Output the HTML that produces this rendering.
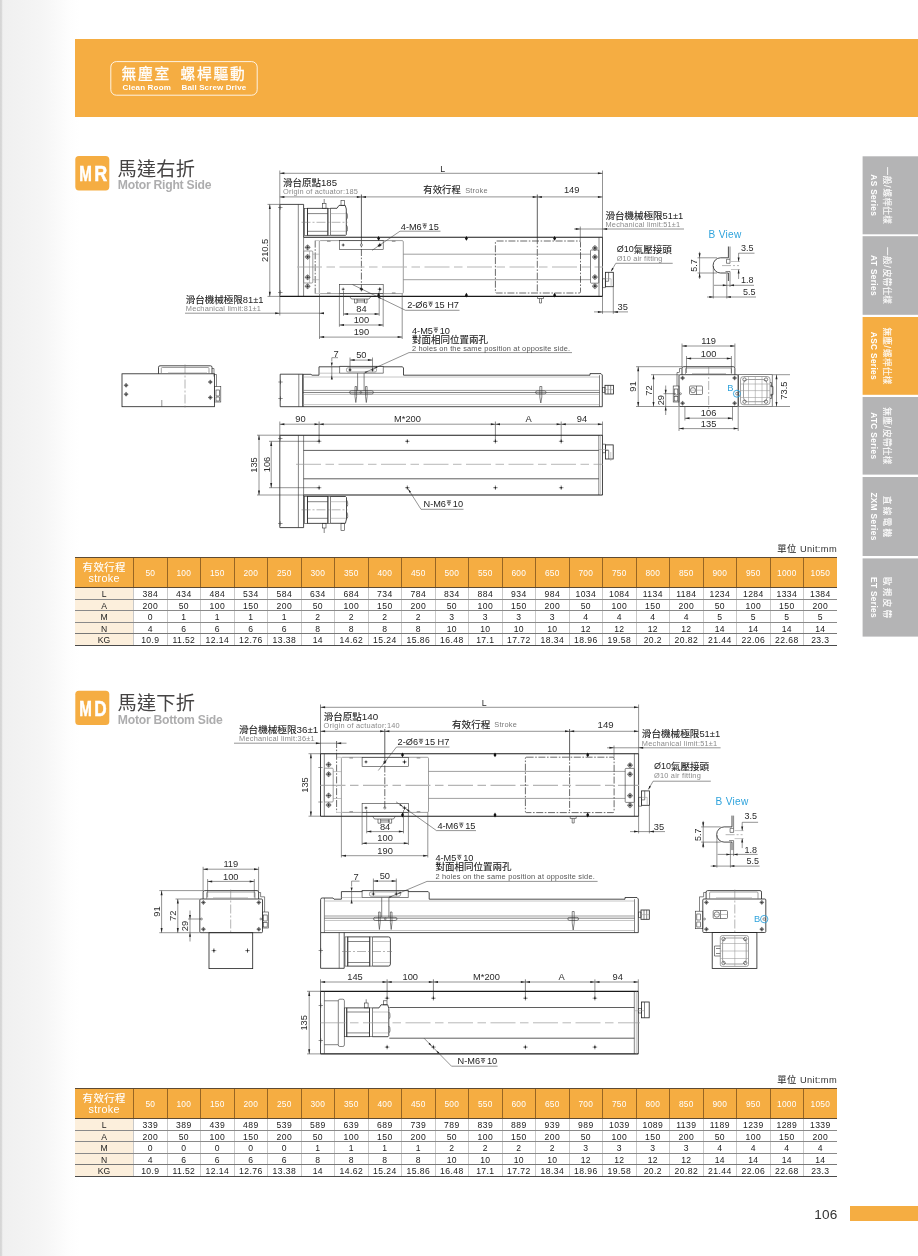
<!DOCTYPE html>
<html><head><meta charset="utf-8"><title>Clean Room Ball Screw Drive</title><style>
html,body{margin:0;padding:0}
body{width:918px;height:1256px;position:relative;overflow:hidden;background:#fff;font-family:"Liberation Sans","Noto Sans CJK TC",sans-serif}
.lg{position:absolute;left:0;top:0;width:90px;height:1256px;background:linear-gradient(90deg,#d4d4d4 0,#dadada 1.6px,#f0f0f0 2.8px,#f2f2f2 20px,#f5f5f5 40px,#f9f9f9 55px,#fdfdfd 68px,#fff 80px)}
.banner{position:absolute;left:75.3px;top:39.4px;width:843px;height:77.8px;background:#F5AD42}
.foot{position:absolute;left:849.8px;top:1206.3px;width:69px;height:14.4px;background:#F5AD42}
svg.main{position:absolute;left:0;top:0;will-change:transform}
svg text{font-family:"Liberation Sans","Noto Sans CJK TC",sans-serif}
.k{fill:none;stroke:#242424;stroke-width:.82}
.K{fill:none;stroke:#1a1a1a;stroke-width:1.15}
.k2{fill:none;stroke:#333;stroke-width:.6}
.k3{fill:none;stroke:#2a2a2a;stroke-width:.75}
.t{fill:none;stroke:#3a3a3a;stroke-width:.55}
.g{fill:none;stroke:#999;stroke-width:.55}
.g2{fill:none;stroke:#777;stroke-width:.7}
.b{fill:none;stroke:#2FA3DC;stroke-width:.9}
.cd{fill:none;stroke:#b5b5b5;stroke-width:1.2;stroke-dasharray:25 4.5 8.5 4.5}
.cd2{fill:none;stroke:#999;stroke-width:.7;stroke-dasharray:25 4.5 8.5 4.5}
.cl{fill:none;stroke:#777;stroke-width:.55;stroke-dasharray:9 2 2 2}
.dd{fill:none;stroke:#3a3a3a;stroke-width:.75;stroke-dasharray:7 1.6 1.6 1.6}
.tbl{will-change:transform;position:absolute;left:75.3px;width:761.7px;font-size:8.6px;color:#222;border-top:1.2px solid #5e4a33;border-bottom:1.3px solid #4a4a4a}
.tbl>div{display:flex}
.th{height:28.9px;background:#F5AD42;color:#fff;border-bottom:1.1px solid #5e4a33;align-items:stretch}
.th .c{display:flex;align-items:center;justify-content:center;padding-top:1.6px;box-sizing:border-box;border-left:.8px solid rgba(90,55,15,.6);width:33.5px;flex:none;letter-spacing:.3px;font-size:8.4px}
.th .c0{width:58.1px;flex:none;height:28.9px}
.th svg{display:block}
.tr{height:10.65px;border-bottom:1px solid #8a8a8a;line-height:13.3px}
.tr.r0{height:10.95px;line-height:13.6px}
.tr.r1{height:10.2px;line-height:12.8px}
.tr.r3{border-bottom:1.4px solid #777;height:10.35px}
.tr.r4{border-bottom:none;height:11.3px}
.tr .c0{width:58.1px;flex:none;background:#FCEFDC;text-align:center}
.tr .c{width:33.5px;box-sizing:border-box;flex:none;border-left:1px solid #c9c9c9;text-align:center;letter-spacing:.4px}
</style></head>
<body>
<div class="lg"></div>
<div class="banner"></div>
<div class="foot"></div>
<div class="tbl" style="top:556.8px"><div class="th"><div class="c0"><svg width="58" height="30" viewBox="0 0 58 30"><text x="7.6" y="13.05" font-size="10.4" fill="#fff" stroke="#fff" stroke-width=".12" letter-spacing=".4">有效行程</text><text x="29.2" y="24.3" font-size="10.8" fill="#fff" text-anchor="middle" letter-spacing=".35">stroke</text></svg></div><div class="c">50</div><div class="c">100</div><div class="c">150</div><div class="c">200</div><div class="c">250</div><div class="c">300</div><div class="c">350</div><div class="c">400</div><div class="c">450</div><div class="c">500</div><div class="c">550</div><div class="c">600</div><div class="c">650</div><div class="c">700</div><div class="c">750</div><div class="c">800</div><div class="c">850</div><div class="c">900</div><div class="c">950</div><div class="c">1000</div><div class="c">1050</div></div><div class="tr r0"><div class="c0">L</div><div class="c">384</div><div class="c">434</div><div class="c">484</div><div class="c">534</div><div class="c">584</div><div class="c">634</div><div class="c">684</div><div class="c">734</div><div class="c">784</div><div class="c">834</div><div class="c">884</div><div class="c">934</div><div class="c">984</div><div class="c">1034</div><div class="c">1084</div><div class="c">1134</div><div class="c">1184</div><div class="c">1234</div><div class="c">1284</div><div class="c">1334</div><div class="c">1384</div></div><div class="tr r1"><div class="c0">A</div><div class="c">200</div><div class="c">50</div><div class="c">100</div><div class="c">150</div><div class="c">200</div><div class="c">50</div><div class="c">100</div><div class="c">150</div><div class="c">200</div><div class="c">50</div><div class="c">100</div><div class="c">150</div><div class="c">200</div><div class="c">50</div><div class="c">100</div><div class="c">150</div><div class="c">200</div><div class="c">50</div><div class="c">100</div><div class="c">150</div><div class="c">200</div></div><div class="tr r2"><div class="c0">M</div><div class="c">0</div><div class="c">1</div><div class="c">1</div><div class="c">1</div><div class="c">1</div><div class="c">2</div><div class="c">2</div><div class="c">2</div><div class="c">2</div><div class="c">3</div><div class="c">3</div><div class="c">3</div><div class="c">3</div><div class="c">4</div><div class="c">4</div><div class="c">4</div><div class="c">4</div><div class="c">5</div><div class="c">5</div><div class="c">5</div><div class="c">5</div></div><div class="tr r3"><div class="c0">N</div><div class="c">4</div><div class="c">6</div><div class="c">6</div><div class="c">6</div><div class="c">6</div><div class="c">8</div><div class="c">8</div><div class="c">8</div><div class="c">8</div><div class="c">10</div><div class="c">10</div><div class="c">10</div><div class="c">10</div><div class="c">12</div><div class="c">12</div><div class="c">12</div><div class="c">12</div><div class="c">14</div><div class="c">14</div><div class="c">14</div><div class="c">14</div></div><div class="tr r4"><div class="c0">KG</div><div class="c">10.9</div><div class="c">11.52</div><div class="c">12.14</div><div class="c">12.76</div><div class="c">13.38</div><div class="c">14</div><div class="c">14.62</div><div class="c">15.24</div><div class="c">15.86</div><div class="c">16.48</div><div class="c">17.1</div><div class="c">17.72</div><div class="c">18.34</div><div class="c">18.96</div><div class="c">19.58</div><div class="c">20.2</div><div class="c">20.82</div><div class="c">21.44</div><div class="c">22.06</div><div class="c">22.68</div><div class="c">23.3</div></div></div>
<div class="tbl" style="top:1088.4px"><div class="th"><div class="c0"><svg width="58" height="30" viewBox="0 0 58 30"><text x="7.6" y="13.05" font-size="10.4" fill="#fff" stroke="#fff" stroke-width=".12" letter-spacing=".4">有效行程</text><text x="29.2" y="24.3" font-size="10.8" fill="#fff" text-anchor="middle" letter-spacing=".35">stroke</text></svg></div><div class="c">50</div><div class="c">100</div><div class="c">150</div><div class="c">200</div><div class="c">250</div><div class="c">300</div><div class="c">350</div><div class="c">400</div><div class="c">450</div><div class="c">500</div><div class="c">550</div><div class="c">600</div><div class="c">650</div><div class="c">700</div><div class="c">750</div><div class="c">800</div><div class="c">850</div><div class="c">900</div><div class="c">950</div><div class="c">1000</div><div class="c">1050</div></div><div class="tr r0"><div class="c0">L</div><div class="c">339</div><div class="c">389</div><div class="c">439</div><div class="c">489</div><div class="c">539</div><div class="c">589</div><div class="c">639</div><div class="c">689</div><div class="c">739</div><div class="c">789</div><div class="c">839</div><div class="c">889</div><div class="c">939</div><div class="c">989</div><div class="c">1039</div><div class="c">1089</div><div class="c">1139</div><div class="c">1189</div><div class="c">1239</div><div class="c">1289</div><div class="c">1339</div></div><div class="tr r1"><div class="c0">A</div><div class="c">200</div><div class="c">50</div><div class="c">100</div><div class="c">150</div><div class="c">200</div><div class="c">50</div><div class="c">100</div><div class="c">150</div><div class="c">200</div><div class="c">50</div><div class="c">100</div><div class="c">150</div><div class="c">200</div><div class="c">50</div><div class="c">100</div><div class="c">150</div><div class="c">200</div><div class="c">50</div><div class="c">100</div><div class="c">150</div><div class="c">200</div></div><div class="tr r2"><div class="c0">M</div><div class="c">0</div><div class="c">0</div><div class="c">0</div><div class="c">0</div><div class="c">0</div><div class="c">1</div><div class="c">1</div><div class="c">1</div><div class="c">1</div><div class="c">2</div><div class="c">2</div><div class="c">2</div><div class="c">2</div><div class="c">3</div><div class="c">3</div><div class="c">3</div><div class="c">3</div><div class="c">4</div><div class="c">4</div><div class="c">4</div><div class="c">4</div></div><div class="tr r3"><div class="c0">N</div><div class="c">4</div><div class="c">6</div><div class="c">6</div><div class="c">6</div><div class="c">6</div><div class="c">8</div><div class="c">8</div><div class="c">8</div><div class="c">8</div><div class="c">10</div><div class="c">10</div><div class="c">10</div><div class="c">10</div><div class="c">12</div><div class="c">12</div><div class="c">12</div><div class="c">12</div><div class="c">14</div><div class="c">14</div><div class="c">14</div><div class="c">14</div></div><div class="tr r4"><div class="c0">KG</div><div class="c">10.9</div><div class="c">11.52</div><div class="c">12.14</div><div class="c">12.76</div><div class="c">13.38</div><div class="c">14</div><div class="c">14.62</div><div class="c">15.24</div><div class="c">15.86</div><div class="c">16.48</div><div class="c">17.1</div><div class="c">17.72</div><div class="c">18.34</div><div class="c">18.96</div><div class="c">19.58</div><div class="c">20.2</div><div class="c">20.82</div><div class="c">21.44</div><div class="c">22.06</div><div class="c">22.68</div><div class="c">23.3</div></div></div>
<svg class="main" width="918" height="1256" viewBox="0 0 918 1256">
<rect x="110.8" y="61.6" width="146.4" height="33.6" rx="5.5" fill="none" stroke="#fff" stroke-opacity=".85" stroke-width="1"/>
<text x="121.6" y="78.9" font-size="14.7" fill="#fff" stroke="#fff" stroke-width=".3" letter-spacing="1.75">無塵室</text>
<text x="180.6" y="78.9" font-size="14.7" fill="#fff" stroke="#fff" stroke-width=".3" letter-spacing="1.75">螺桿驅動</text>
<text x="122.6" y="90.3" font-size="8" fill="#fff" font-weight="bold" letter-spacing="0.17">Clean Room</text>
<text x="181.6" y="90.3" font-size="8" fill="#fff" font-weight="bold" letter-spacing="0.13">Ball Screw Drive</text>
<rect x="862.6" y="156.3" width="56" height="78" fill="#B4B4B5"/>
<g transform="translate(881 195.3) rotate(90)"><text y="-3.2" font-size="8.6" fill="#fff" stroke="#fff" stroke-width=".1"><tspan x="-28.48" letter-spacing=".3">一般</tspan><tspan x="-10.3">/</tspan><tspan x="-6.82" letter-spacing=".3">螺桿仕樣</tspan></text><text x="0" y="10" font-size="8.3" font-weight="bold" fill="#fff" text-anchor="middle" letter-spacing=".35">AS Series</text></g>
<rect x="862.6" y="236.2" width="56" height="78.6" fill="#B4B4B5"/>
<g transform="translate(881 275.5) rotate(90)"><text y="-3.2" font-size="8.6" fill="#fff" stroke="#fff" stroke-width=".1"><tspan x="-28.48" letter-spacing=".3">一般</tspan><tspan x="-10.3">/</tspan><tspan x="-6.82" letter-spacing=".3">皮帶仕樣</tspan></text><text x="0" y="10" font-size="8.3" font-weight="bold" fill="#fff" text-anchor="middle" letter-spacing=".35">AT Series</text></g>
<rect x="862.6" y="317" width="56" height="77.8" fill="#F5AD42"/>
<g transform="translate(881 355.9) rotate(90)"><text y="-3.2" font-size="8.6" fill="#fff" stroke="#fff" stroke-width=".1"><tspan x="-28.48" letter-spacing=".3">無塵</tspan><tspan x="-10.3">/</tspan><tspan x="-6.82" letter-spacing=".3">螺桿仕樣</tspan></text><text x="0" y="10" font-size="8.3" font-weight="bold" fill="#fff" text-anchor="middle" letter-spacing=".35">ASC Series</text></g>
<rect x="862.6" y="397" width="56" height="77.6" fill="#B4B4B5"/>
<g transform="translate(881 435.8) rotate(90)"><text y="-3.2" font-size="8.6" fill="#fff" stroke="#fff" stroke-width=".1"><tspan x="-28.48" letter-spacing=".3">無塵</tspan><tspan x="-10.3">/</tspan><tspan x="-6.82" letter-spacing=".3">皮帶仕樣</tspan></text><text x="0" y="10" font-size="8.3" font-weight="bold" fill="#fff" text-anchor="middle" letter-spacing=".35">ATC Series</text></g>
<rect x="862.6" y="477" width="56" height="79" fill="#B4B4B5"/>
<g transform="translate(881 516.5) rotate(90)"><text x="-20.5" y="-3.2" font-size="8.6" fill="#fff" stroke="#fff" stroke-width=".1" letter-spacing="2.2">直線電機</text><text x="0" y="10" font-size="8.3" font-weight="bold" fill="#fff" text-anchor="middle" letter-spacing=".35">ZXM Series</text></g>
<rect x="862.6" y="558.4" width="56" height="78.2" fill="#B4B4B5"/>
<g transform="translate(881 597.5) rotate(90)"><text x="-20.5" y="-3.2" font-size="8.6" fill="#fff" stroke="#fff" stroke-width=".1" letter-spacing="2.2">歐規皮帶</text><text x="0" y="10" font-size="8.3" font-weight="bold" fill="#fff" text-anchor="middle" letter-spacing=".35">ET Series</text></g>
<rect x="75.3" y="156" width="34" height="34.4" rx="3.6" fill="#F5AD42"/>
<text transform="translate(79.3 181.2) scale(0.682 1)" font-size="22.2" font-weight="bold" fill="#fff" stroke="#fff" stroke-width=".5">M</text>
<text transform="translate(94.3 181.2) scale(0.809 1)" font-size="22.2" font-weight="bold" fill="#fff" stroke="#fff" stroke-width=".5">R</text>
<text x="117.6" y="175.5" font-size="19.2" fill="#454343" letter-spacing=".2">馬達右折</text>
<text x="117.8" y="189.2" font-size="12.2" fill="#adadae" font-weight="bold" letter-spacing="-0.25">Motor Right Side</text>
<rect x="75.3" y="690.7" width="34" height="34.4" rx="3.6" fill="#F5AD42"/>
<text transform="translate(79.3 715.9) scale(0.682 1)" font-size="22.2" font-weight="bold" fill="#fff" stroke="#fff" stroke-width=".5">M</text>
<text transform="translate(94.3 715.9) scale(0.775 1)" font-size="22.2" font-weight="bold" fill="#fff" stroke="#fff" stroke-width=".5">D</text>
<text x="117.6" y="710.2" font-size="19.2" fill="#454343" letter-spacing=".2">馬達下折</text>
<text x="117.8" y="723.9" font-size="12.2" fill="#adadae" font-weight="bold" letter-spacing="-0.25">Motor Bottom Side</text>
<path class="t" d="M279.8 173.3L602.5 173.3"/>
<path fill="#222" d="M279.8 173.3L284.4 172.3L284.4 174.3Z"/>
<path fill="#222" d="M602.5 173.3L597.9 172.3L597.9 174.3Z"/>
<text x="442.6" y="171.6" font-size="8.8" fill="#2b2b2b" text-anchor="middle">L</text>
<path class="t" d="M279.8 196.9L361.4 196.9"/>
<path fill="#222" d="M279.8 196.9L284.4 195.9L284.4 197.9Z"/>
<path fill="#222" d="M361.4 196.9L356.8 195.9L356.8 197.9Z"/>
<path class="t" d="M361.4 196.9L537.3 196.9"/>
<path fill="#222" d="M361.4 196.9L366 195.9L366 197.9Z"/>
<path fill="#222" d="M537.3 196.9L532.7 195.9L532.7 197.9Z"/>
<path class="t" d="M537.3 196.9L602.5 196.9"/>
<path fill="#222" d="M537.3 196.9L541.9 195.9L541.9 197.9Z"/>
<path fill="#222" d="M602.5 196.9L597.9 195.9L597.9 197.9Z"/>
<path class="t" d="M279.8 170.5L279.8 204.2"/>
<path class="t" d="M602.5 170.5L602.5 237.2"/>
<path class="k3" d="M361.4 194.5L361.4 237.2"/>
<path class="dd" d="M361.4 237.2L361.4 293"/>
<path class="k3" d="M537.3 194.5L537.3 237.2"/>
<path class="dd" d="M537.3 237.2L537.3 293"/>
<text x="283" y="185.8" font-size="9.5" fill="#222" stroke="#222" stroke-width=".12">滑台原點</text><text x="321" y="185.6" font-size="9.6" fill="#222">185</text>
<text x="283" y="194.2" font-size="7.4" fill="#8a8a8a" letter-spacing="0.18">Origin of actuator:185</text>
<text x="423.3" y="193.4" font-size="9.4" fill="#222" stroke="#222" stroke-width=".12">有效行程</text>
<text x="465.2" y="193" font-size="7.4" fill="#777" letter-spacing="0.19">Stroke</text>
<text x="571.7" y="193.2" font-size="9.3" fill="#2b2b2b" text-anchor="middle">149</text>
<path class="k" d="M279.8 296.4V204.4H303.6V237.2"/>
<path class="k2" d="M298.3 204.4L298.3 296.4"/>
<path class="k2" d="M303.6 237.2L303.6 296.4"/>
<path class="t" d="M278.1 207.5L282.5 207.5"/>
<path class="t" d="M280.3 205.3L280.3 209.7"/>
<path class="t" d="M278.1 292.5L282.5 292.5"/>
<path class="t" d="M280.3 290.3L280.3 294.7"/>
<rect class="k2" x="304.4" y="208.3" width="3" height="27"/>
<rect class="k" x="307.4" y="208.3" width="20.5" height="27"/>
<rect class="k2" x="327.9" y="208.3" width="2.5" height="27"/>
<path class="k" d="M330.4 208.3H337L339 205.4H345.2L346.3 209V234.5L345.6 235.3H330.4"/>
<path class="k2" d="M307.4 213.6L327.9 213.6"/>
<path class="k2" d="M307.4 231.3L327.9 231.3"/>
<path class="g" d="M330.4 213.6L346 213.6"/>
<path class="g" d="M330.4 231.3L346 231.3"/>
<rect class="k2" x="322.5" y="203.4" width="3.5" height="4.9"/>
<path class="k2" d="M324.2 199L324.2 203.4"/>
<rect class="k2" x="341" y="200.6" width="3.6" height="4.8"/>
<path class="k2" d="M346.3 212.5q1.5 1 1.2 4.5q0 2 -1.2 2.5M346.3 225q1.5 1 1.2 4.5q0 2 -1.2 2.5"/>
<path class="cl" d="M301.5 222.3L347.5 222.3"/>
<path class="K" d="M303.6 237.2L602.5 237.2"/>
<path class="K" d="M279.8 296.4L602.5 296.4"/>
<path class="k" d="M602.5 237.2L602.5 296.4"/>
<path class="k2" d="M599 237.2L599 296.4"/>
<rect class="g2" x="319.3" y="240.6" width="84" height="53" rx="1.2"/>
<path class="dd" d="M315.2 240.6L315.2 293.6"/>
<path class="g" d="M315.2 240.6L319.3 240.6"/>
<path class="g" d="M315.2 293.6L319.3 293.6"/>
<rect class="k2" x="339.4" y="240.6" width="43.8" height="9"/>
<rect class="k2" x="339.4" y="284.6" width="43.8" height="9"/>
<path class="t" d="M341.5 245L344.9 245"/>
<path class="t" d="M343.2 243.3L343.2 246.7"/>
<circle cx="343.2" cy="245" r=".8" fill="#333"/>
<circle class="t" cx="361.4" cy="245" r="1.1"/>
<path class="t" d="M377.6 245L382 245"/>
<path class="t" d="M379.8 242.8L379.8 247.2"/>
<path fill="#222" d="M378.6 245L379.8 243.5L381 245L379.8 246.5Z"/>
<path class="t" d="M341.5 289.2L344.9 289.2"/>
<path class="t" d="M343.2 287.5L343.2 290.9"/>
<circle cx="343.2" cy="289.2" r=".8" fill="#333"/>
<circle class="t" cx="361.4" cy="289.2" r="1.1"/>
<path class="t" d="M377.6 289.2L382 289.2"/>
<path class="t" d="M379.8 287L379.8 291.4"/>
<path fill="#222" d="M378.6 289.2L379.8 287.7L381 289.2L379.8 290.7Z"/>
<path class="t" d="M327 241.3L330.6 241.3"/>
<path class="t" d="M327 292.9L330.6 292.9"/>
<path class="t" d="M391.9 241.3L395.5 241.3"/>
<path class="t" d="M391.9 292.9L395.5 292.9"/>
<path class="g2" d="M403.3 254.2L590.5 254.2"/>
<path class="g2" d="M403.3 279.7L590.5 279.7"/>
<path class="g" d="M312.8 254.2L319.3 254.2"/>
<path class="g" d="M312.8 279.7L319.3 279.7"/>
<path class="cd" d="M297 267L603 267"/>
<path fill="#111" d="M377.1 238.4L378.6 236L380.1 238.4L378.6 240.8Z"/>
<path fill="#111" d="M377.1 295.2L378.6 292.8L380.1 295.2L378.6 297.6Z"/>
<path fill="#111" d="M464.9 238.4L466.4 236L467.9 238.4L466.4 240.8Z"/>
<path fill="#111" d="M464.9 295.2L466.4 292.8L467.9 295.2L466.4 297.6Z"/>
<path fill="#111" d="M553.1 238.4L554.6 236L556.1 238.4L554.6 240.8Z"/>
<path fill="#111" d="M553.1 295.2L554.6 292.8L556.1 295.2L554.6 297.6Z"/>
<rect class="g2" x="303.6" y="251" width="9.2" height="32" rx="1"/>
<path class="g" d="M309.5 251L309.5 283"/>
<circle class="k2" cx="307.6" cy="247.4" r="2"/>
<path class="t" d="M304.7 247.4L310.5 247.4"/>
<path class="t" d="M307.6 244.5L307.6 250.3"/>
<circle cx="307.6" cy="247.4" r="1.1" fill="#333"/>
<circle class="k2" cx="307.6" cy="256.9" r="2"/>
<path class="t" d="M304.7 256.9L310.5 256.9"/>
<path class="t" d="M307.6 254L307.6 259.8"/>
<circle cx="307.6" cy="256.9" r="1.1" fill="#333"/>
<circle class="k2" cx="307.6" cy="277.3" r="2"/>
<path class="t" d="M304.7 277.3L310.5 277.3"/>
<path class="t" d="M307.6 274.4L307.6 280.2"/>
<circle cx="307.6" cy="277.3" r="1.1" fill="#333"/>
<circle class="k2" cx="307.6" cy="286.3" r="2"/>
<path class="t" d="M304.7 286.3L310.5 286.3"/>
<path class="t" d="M307.6 283.4L307.6 289.2"/>
<circle cx="307.6" cy="286.3" r="1.1" fill="#333"/>
<rect class="dd" x="495.4" y="241" width="85.1" height="52" rx="1.2"/>
<rect class="k2" x="590.5" y="250" width="8.3" height="33.2" rx="0.8"/>
<circle class="k2" cx="594.9" cy="248" r="2"/>
<path class="t" d="M592 248L597.8 248"/>
<path class="t" d="M594.9 245.1L594.9 250.9"/>
<circle cx="594.9" cy="248" r="1.1" fill="#333"/>
<circle class="k2" cx="594.9" cy="257" r="2"/>
<path class="t" d="M592 257L597.8 257"/>
<path class="t" d="M594.9 254.1L594.9 259.9"/>
<circle cx="594.9" cy="257" r="1.1" fill="#333"/>
<circle class="k2" cx="594.9" cy="277.1" r="2"/>
<path class="t" d="M592 277.1L597.8 277.1"/>
<path class="t" d="M594.9 274.2L594.9 280"/>
<circle cx="594.9" cy="277.1" r="1.1" fill="#333"/>
<circle class="k2" cx="594.9" cy="286.2" r="2"/>
<path class="t" d="M592 286.2L597.8 286.2"/>
<path class="t" d="M594.9 283.3L594.9 289.1"/>
<circle cx="594.9" cy="286.2" r="1.1" fill="#333"/>
<rect class="k" x="605.4" y="272.3" width="7.9" height="14.4"/>
<path class="k2" d="M602.5 278.78V287.6H605.4V278.78H602.5"/>
<path class="k2" d="M608.6 272.3V281.28H605.4"/>
<path class="g" d="M605.4 278.78H611.1V286.7"/>
<path class="k2" d="M349.5 296.4L351.5 299H369L371 296.4M354.5 299V303H357V299M364.5 299V303H367V299M357 300.2H364.5V302H357"/>
<path class="k2" d="M537.5 296.4V298.5H543.5V296.4M539.5 298.5V303H541.5V298.5"/>
<text x="400.8" y="229.6" font-size="9.2" fill="#222">4-M6</text>
<path fill="none" stroke="#222" stroke-width=".65" d="M422.56 223.9h4.3M423.16 225.5L426.26 225.5L424.71 228.5ZM424.71 223.9V225.5"/>
<text x="428.56" y="229.6" font-size="9.2" fill="#222">15</text>
<path class="t" d="M440.5 231.2H400L372 250.4"/>
<path fill="#222" d="M381.3 244L378.84 246.78L377.82 245.3Z"/>
<path fill="#222" d="M377.5 246.7L379.96 243.92L380.98 245.4Z"/>
<text x="407.2" y="307.8" font-size="9.2" fill="#222">2-Ø6</text>
<path fill="none" stroke="#222" stroke-width=".65" d="M428.45 302.1h4.3M429.05 303.7L432.15 303.7L430.6 306.7ZM430.6 302.1V303.7"/>
<text x="434.45" y="307.8" font-size="9.2" fill="#222">15 H7</text>
<path class="t" d="M459.5 310.3H405.5L352.5 284.6"/>
<path fill="#222" d="M363.4 289.9L359.77 289.14L360.55 287.52Z"/>
<path fill="#222" d="M359.4 288L363.03 288.76L362.25 290.38Z"/>
<path fill="#222" d="M381.6 298.7L377.97 297.94L378.75 296.32Z"/>
<path class="t" d="M343.5 291L343.5 315.8"/>
<path class="t" d="M379.2 291L379.2 315.8"/>
<path class="t" d="M343.5 314L379.2 314"/>
<path fill="#222" d="M343.5 314L348.1 313L348.1 315Z"/>
<path fill="#222" d="M379.2 314L374.6 313L374.6 315Z"/>
<text x="361.4" y="312" font-size="9.3" fill="#2b2b2b" text-anchor="middle">84</text>
<path class="t" d="M339.4 294L339.4 326.8"/>
<path class="t" d="M383.2 294L383.2 326.8"/>
<path class="t" d="M339.4 325L383.2 325"/>
<path fill="#222" d="M339.4 325L344 324L344 326Z"/>
<path fill="#222" d="M383.2 325L378.6 324L378.6 326Z"/>
<text x="361.4" y="323.2" font-size="9.3" fill="#2b2b2b" text-anchor="middle">100</text>
<path class="t" d="M319.5 294L319.5 339"/>
<path class="t" d="M402.2 294L402.2 339"/>
<path class="t" d="M319.5 337.1L402.2 337.1"/>
<path fill="#222" d="M319.5 337.1L324.1 336.1L324.1 338.1Z"/>
<path fill="#222" d="M402.2 337.1L397.6 336.1L397.6 338.1Z"/>
<text x="361.4" y="335.3" font-size="9.3" fill="#2b2b2b" text-anchor="middle">190</text>
<text x="185.8" y="302.8" font-size="9.5" fill="#222" stroke="#222" stroke-width=".12">滑台機械極限</text><text x="242.8" y="302.6" font-size="9.4" fill="#222">81±1</text>
<text x="185.8" y="311" font-size="7.4" fill="#8a8a8a" letter-spacing="0.2">Mechanical limit:81±1</text>
<path class="t" d="M185 313.2L324 313.2"/>
<path fill="#222" d="M279.8 313.2L275.2 312.2L275.2 314.2Z"/>
<path fill="#222" d="M319.4 313.2L324 312.2L324 314.2Z"/>
<path class="t" d="M279.8 296.4L279.8 315.5"/>
<path class="t" d="M267.5 204.4L279.8 204.4"/>
<path class="t" d="M267.5 296.4L279.8 296.4"/>
<path class="t" d="M269.8 204.4L269.8 296.4"/>
<path fill="#222" d="M269.8 204.4L268.8 209L270.8 209Z"/>
<path fill="#222" d="M269.8 296.4L268.8 291.8L270.8 291.8Z"/>
<text x="268.2" y="250.4" font-size="9.3" fill="#2b2b2b" text-anchor="middle" transform="rotate(-90 268.2 250.4)">210.5</text>
<text x="605.5" y="219.2" font-size="9.5" fill="#222" stroke="#222" stroke-width=".12">滑台機械極限</text><text x="662.5" y="219" font-size="9.4" fill="#222">51±1</text>
<text x="605.5" y="227.4" font-size="7.4" fill="#8a8a8a" letter-spacing="0.18">Mechanical limit:51±1</text>
<path class="t" d="M574 229L684 229"/>
<path fill="#222" d="M580.3 229L575.7 228L575.7 230Z"/>
<path fill="#222" d="M602.5 229L607.1 228L607.1 230Z"/>
<path class="t" d="M580.3 226.5L580.3 241"/>
<text x="616.7" y="252.4" font-size="9" fill="#222">Ø10</text><text x="633.71" y="252.6" font-size="9.5" fill="#222" stroke="#222" stroke-width=".12">氣壓接頭</text>
<text x="616.7" y="260.8" font-size="7.4" fill="#8a8a8a" letter-spacing="0.13">Ø10 air fitting</text>
<path class="t" d="M672.7 263.3H615.8L611.2 271.2"/>
<path fill="#222" d="M611 271.5L612.12 267.76L613.68 268.66Z"/>
<path class="t" d="M602.5 296.4L602.5 313.8"/>
<path class="t" d="M613.3 286.7L613.3 313.8"/>
<path class="t" d="M594 311.9L628 311.9"/>
<path fill="#222" d="M602.5 311.9L597.9 310.9L597.9 312.9Z"/>
<path fill="#222" d="M613.3 311.9L617.9 310.9L617.9 312.9Z"/>
<text x="617.6" y="310.2" font-size="9.3" fill="#2b2b2b">35</text>
<text x="412" y="333.6" font-size="9.2" fill="#222">4-M5</text>
<path fill="none" stroke="#222" stroke-width=".65" d="M433.76 327.9h4.3M434.36 329.5L437.46 329.5L435.91 332.5ZM435.91 327.9V329.5"/>
<text x="439.76" y="333.6" font-size="9.2" fill="#222">10</text>
<text x="412" y="342.8" font-size="9.5" fill="#222" stroke="#222" stroke-width=".12">對面相同位置兩孔</text>
<text x="412" y="350.6" font-size="7.4" fill="#555" letter-spacing="0.18">2 holes on the same position at opposite side.</text>
<path class="t" d="M572 352.6H409L364.5 372.7"/>
<path fill="#222" d="M373.6 368.6L376.69 366.22L377.43 367.86Z"/>
<path fill="#222" d="M368.6 370.9L365.51 373.28L364.77 371.64Z"/>
<text x="708.6" y="238.1" font-size="10.1" fill="#2FA3DC" letter-spacing="0.3">B View</text>
<path class="k" d="M728.4 246.5V257.8H720.5A7.4 7.6 0 0 0 720.5 273H728.4V281"/>
<path class="k2" d="M730 246.5V259.3H726.5V263.3H730V259.3"/>
<path class="k2" d="M730 281H730V271.5H725.5"/>
<path class="cl" d="M722 265.6L739 265.6"/>
<path class="g" d="M731 261.5L740 261.5"/>
<path class="g" d="M731 269.5L740 269.5"/>
<path class="t" d="M697.5 257.8L717 257.8"/>
<path class="t" d="M697.5 273L717 273"/>
<path class="t" d="M699.6 251.8L699.6 279"/>
<path fill="#222" d="M699.6 257.8L698.6 253.2L700.6 253.2Z"/>
<path fill="#222" d="M699.6 273L698.6 277.6L700.6 277.6Z"/>
<text x="697.3" y="265.6" font-size="9" fill="#2b2b2b" text-anchor="middle" transform="rotate(-90 697.3 265.6)">5.7</text>
<text x="741" y="251" font-size="9" fill="#2b2b2b">3.5</text>
<path class="t" d="M738.6 253.2L754.5 253.2"/>
<path class="t" d="M738.6 253.2L738.6 261.5"/>
<path fill="#222" d="M738.6 261.5L737.6 257.5L739.6 257.5Z"/>
<path class="t" d="M738.6 269.5L738.6 279"/>
<path fill="#222" d="M738.6 269.5L737.6 273.5L739.6 273.5Z"/>
<text x="741" y="283.4" font-size="9" fill="#2b2b2b">1.8</text>
<path class="t" d="M714 285.3L754 285.3"/>
<path fill="#222" d="M726.8 285.3L722.8 284.3L722.8 286.3Z"/>
<path fill="#222" d="M730 285.3L734 284.3L734 286.3Z"/>
<path class="t" d="M726.8 274L726.8 298.5"/>
<path class="t" d="M730 281L730 287"/>
<text x="743" y="295" font-size="9" fill="#2b2b2b">5.5</text>
<path class="t" d="M707 297L756 297"/>
<path fill="#222" d="M713.3 297L709.3 296L709.3 298Z"/>
<path fill="#222" d="M726.8 297L730.8 296L730.8 298Z"/>
<path class="t" d="M713.3 266L713.3 298.5"/>
<path class="k" d="M280.2 374.2H302.9V406.7H280.2Z"/>
<path class="k2" d="M298.8 374.2L298.8 406.7"/>
<path class="t" d="M278.3 382L282.7 382"/>
<path class="t" d="M280.5 379.8L280.5 384.2"/>
<path class="t" d="M278.3 398.5L282.7 398.5"/>
<path class="t" d="M280.5 396.3L280.5 400.7"/>
<path class="k" d="M302.9 406.7V374.3H311L312 375.2H319V366.8H339.6V366.4H383.3V366.8H402.5L403.5 368V375.2H590V373.6H601L602.3 375V406.7H302.9"/>
<path class="g" d="M319 373.2L339.6 373.2"/>
<path class="k2" d="M339.6 366.4L339.6 373.2"/>
<path class="k2" d="M383.3 366.4L383.3 373.2"/>
<path class="k2" d="M339.6 373.2L383.3 373.2"/>
<path class="g" d="M302.9 377L599.5 377"/>
<path class="k2" d="M599.5 375.2L599.5 406.7"/>
<path class="g2" d="M302.9 390.4L599.5 390.4"/>
<path class="k2" d="M302.9 392.5L599.5 392.5"/>
<path class="g" d="M302.9 394.4L599.5 394.4"/>
<path class="g" d="M302.9 404.6L599.5 404.6"/>
<rect class="g2" x="346.5" y="367.8" width="30" height="4.2" rx="1.5"/>
<path class="t" d="M348.2 369.9L351.8 369.9"/>
<path class="t" d="M350 368.1L350 371.7"/>
<path fill="#222" d="M349 369.9L350 368.6L351 369.9L350 371.2Z"/>
<path class="t" d="M370.7 369.9L374.3 369.9"/>
<path class="t" d="M372.5 368.1L372.5 371.7"/>
<path fill="#222" d="M371.5 369.9L372.5 368.6L373.5 369.9L372.5 371.2Z"/>
<path class="k2" d="M357.6 373.2V390.5M364.1 373.2V390.5"/>
<path class="k2" d="M355 386.5V396.5L355.8 402.5L356.6 396.5V386.5ZM365.5 386.5V396.5L366.3 402.5L367.1 396.5V386.5Z"/>
<path class="k2" d="M349.5 392.4q0 -1.6 2 -1.6h20q2 0 2 1.6q0 1.6 -2 1.6h-20q-2 0 -2 -1.6z"/>
<circle class="t" cx="360.8" cy="392.4" r="0.9"/>
<path class="k2" d="M539.8 386.5V397L540.8 403L541.8 397V386.5ZM535.5 392.4q0 -1.5 1.8 -1.5h7q1.8 0 1.8 1.5q0 1.5 -1.8 1.5h-7q-1.8 0 -1.8 -1.5z"/>
<rect class="k2" x="602.3" y="387.5" width="2.7" height="5"/>
<rect class="k" x="605" y="385.3" width="8.4" height="8.7"/>
<path class="k2" d="M608 385.3L608 394"/>
<path class="k2" d="M610.7 385.3L610.7 394"/>
<path class="g" d="M605 389.6L613.4 389.6"/>
<path class="t" d="M331.8 357.7L331.8 361.5"/>
<path fill="#222" d="M331.8 366.8L330.8 362.6L332.8 362.6Z"/>
<path class="t" d="M331.8 366.8L331.8 375.2"/>
<path fill="#222" d="M331.8 375.2L330.8 379.4L332.8 379.4Z"/>
<path class="t" d="M331.8 375.2L331.8 379"/>
<path class="t" d="M331.8 357.7L338 357.7"/>
<text x="333.6" y="356.5" font-size="9.3" fill="#2b2b2b">7</text>
<path class="t" d="M350 357.5L350 371"/>
<path class="t" d="M372.5 357.5L372.5 371"/>
<path class="t" d="M350 360.1L372.5 360.1"/>
<path fill="#222" d="M350 360.1L354.6 359.1L354.6 361.1Z"/>
<path fill="#222" d="M372.5 360.1L367.9 359.1L367.9 361.1Z"/>
<text x="361.3" y="358.3" font-size="9.3" fill="#2b2b2b" text-anchor="middle">50</text>
<path class="t" d="M279.8 424.2L319.1 424.2"/>
<path fill="#222" d="M279.8 424.2L284.4 423.2L284.4 425.2Z"/>
<path fill="#222" d="M319.1 424.2L314.5 423.2L314.5 425.2Z"/>
<path class="t" d="M319.1 424.2L495.4 424.2"/>
<path fill="#222" d="M319.1 424.2L323.7 423.2L323.7 425.2Z"/>
<path fill="#222" d="M495.4 424.2L490.8 423.2L490.8 425.2Z"/>
<path class="t" d="M495.4 424.2L561.2 424.2"/>
<path fill="#222" d="M495.4 424.2L500 423.2L500 425.2Z"/>
<path fill="#222" d="M561.2 424.2L556.6 423.2L556.6 425.2Z"/>
<path class="t" d="M561.2 424.2L602.5 424.2"/>
<path fill="#222" d="M561.2 424.2L565.8 423.2L565.8 425.2Z"/>
<path fill="#222" d="M602.5 424.2L597.9 423.2L597.9 425.2Z"/>
<text x="300.4" y="422.2" font-size="9.3" fill="#2b2b2b" text-anchor="middle">90</text>
<text x="407.5" y="422.2" font-size="9.3" fill="#2b2b2b" text-anchor="middle">M*200</text>
<text x="528.6" y="422.2" font-size="9.3" fill="#2b2b2b" text-anchor="middle">A</text>
<text x="582" y="422.2" font-size="9.3" fill="#2b2b2b" text-anchor="middle">94</text>
<path class="t" d="M279.8 421.5L279.8 435.2"/>
<path class="k2" d="M319.1 421.5L319.1 441.3"/>
<path class="k2" d="M495.4 421.5L495.4 441.3"/>
<path class="t" d="M561.2 421.5L561.2 441.3"/>
<path class="t" d="M602.5 421.5L602.5 435.2"/>
<path class="K" d="M279.8 435.2L602.5 435.2"/>
<path class="K" d="M303.6 495L602.5 495"/>
<path class="k" d="M602.5 435.2L602.5 495"/>
<path class="k2" d="M598.8 435.2L598.8 495"/>
<path class="g" d="M600.6 435.2L600.6 495"/>
<path class="k" d="M279.8 435.2V527.6H303.6V495"/>
<path class="k2" d="M298.4 435.2L298.4 527.6"/>
<path class="k2" d="M303.6 435.2L303.6 495"/>
<path class="t" d="M278.1 438.5L282.5 438.5"/>
<path class="t" d="M280.3 436.3L280.3 440.7"/>
<path class="t" d="M278.1 523.5L282.5 523.5"/>
<path class="t" d="M280.3 521.3L280.3 525.7"/>
<path class="k3" d="M303.6 450.4L598.8 450.4"/>
<path class="k3" d="M303.6 478.8L598.8 478.8"/>
<path class="cd2" d="M296 464.3L603 464.3"/>
<path class="k2" d="M602.6 444.2H605.5V452.7H602.6"/>
<rect class="k" x="605.5" y="444.9" width="7.7" height="14.1"/>
<path class="k2" d="M608.7 459V450.5H605.5"/>
<path class="g" d="M598.8 449.5L608.5 449.5"/>
<path class="g" d="M610.8 452L610.8 461"/>
<path class="t" d="M316.8 441.3L321.4 441.3"/>
<path class="t" d="M319.1 439L319.1 443.6"/>
<path fill="#222" d="M318.1 441.3L319.1 440L320.1 441.3L319.1 442.6Z"/>
<path class="t" d="M316.8 487.7L321.4 487.7"/>
<path class="t" d="M319.1 485.4L319.1 490"/>
<path fill="#222" d="M318.1 487.7L319.1 486.4L320.1 487.7L319.1 489Z"/>
<path class="t" d="M405 441.3L409.6 441.3"/>
<path class="t" d="M407.3 439L407.3 443.6"/>
<path fill="#222" d="M406.3 441.3L407.3 440L408.3 441.3L407.3 442.6Z"/>
<path class="t" d="M405 487.7L409.6 487.7"/>
<path class="t" d="M407.3 485.4L407.3 490"/>
<path fill="#222" d="M406.3 487.7L407.3 486.4L408.3 487.7L407.3 489Z"/>
<path class="t" d="M493.1 441.3L497.7 441.3"/>
<path class="t" d="M495.4 439L495.4 443.6"/>
<path fill="#222" d="M494.4 441.3L495.4 440L496.4 441.3L495.4 442.6Z"/>
<path class="t" d="M493.1 487.7L497.7 487.7"/>
<path class="t" d="M495.4 485.4L495.4 490"/>
<path fill="#222" d="M494.4 487.7L495.4 486.4L496.4 487.7L495.4 489Z"/>
<path class="t" d="M558.9 441.3L563.5 441.3"/>
<path class="t" d="M561.2 439L561.2 443.6"/>
<path fill="#222" d="M560.2 441.3L561.2 440L562.2 441.3L561.2 442.6Z"/>
<path class="t" d="M558.9 487.7L563.5 487.7"/>
<path class="t" d="M561.2 485.4L561.2 490"/>
<path fill="#222" d="M560.2 487.7L561.2 486.4L562.2 487.7L561.2 489Z"/>
<rect class="k2" x="304.4" y="496.5" width="3" height="26.8"/>
<rect class="k" x="307.4" y="496.5" width="20.5" height="26.8"/>
<rect class="k2" x="327.9" y="496.5" width="2.5" height="26.8"/>
<path class="k" d="M330.4 496.5H345.6L346.5 497.5V519L345.4 523.3H330.4"/>
<path class="k2" d="M307.4 501.7L327.9 501.7"/>
<path class="k2" d="M307.4 518.3L327.9 518.3"/>
<path class="g" d="M330.4 501.7L346 501.7"/>
<path class="g" d="M330.4 518.3L346 518.3"/>
<rect class="k2" x="322.5" y="523.3" width="3.5" height="4.7"/>
<path class="k2" d="M324.2 528L324.2 533"/>
<rect class="k2" x="341" y="523.3" width="3.6" height="7.2"/>
<path class="k2" d="M346.5 500q1.5 1 1.2 4.5q0 2 -1.2 2.5M346.5 512q1.5 1 1.2 4.5q0 2 -1.2 2.5"/>
<path class="cl" d="M301.5 509.8L347.5 509.8"/>
<path class="t" d="M257 435.2L279.8 435.2"/>
<path class="t" d="M257 495L303.6 495"/>
<path class="t" d="M259 435.2L259 495"/>
<path fill="#222" d="M259 435.2L258 439.8L260 439.8Z"/>
<path fill="#222" d="M259 495L258 490.4L260 490.4Z"/>
<text x="257.3" y="465" font-size="9.3" fill="#2b2b2b" text-anchor="middle" transform="rotate(-90 257.3 465)">135</text>
<path class="t" d="M269 441.3L319 441.3"/>
<path class="t" d="M269 487.7L319 487.7"/>
<path class="t" d="M271.2 441.3L271.2 487.7"/>
<path fill="#222" d="M271.2 441.3L270.2 445.9L272.2 445.9Z"/>
<path fill="#222" d="M271.2 487.7L270.2 483.1L272.2 483.1Z"/>
<text x="269.6" y="464.5" font-size="9.3" fill="#2b2b2b" text-anchor="middle" transform="rotate(-90 269.6 464.5)">106</text>
<text x="423.5" y="506.5" font-size="9.2" fill="#222">N-M6</text>
<path fill="none" stroke="#222" stroke-width=".65" d="M446.79 500.8h4.3M447.39 502.4L450.49 502.4L448.94 505.4ZM448.94 500.8V502.4"/>
<text x="452.79" y="506.5" font-size="9.2" fill="#222">10</text>
<path class="t" d="M463.5 509.3H421L407.3 487.7"/>
<path fill="#222" d="M408.3 489.3L410.99 491.85L409.48 492.82Z"/>
<rect class="k" x="122" y="373.8" width="92.4" height="32.9"/>
<path class="k" d="M158.5 373.8V367.3q0 -1.5 1.5 -1.5H210.5q1.5 0 1.5 1.5V373.8"/>
<path class="g2" d="M161.3 373.8V368.5q0 -1 1 -1H208q1 0 1 1V373.8"/>
<path class="g" d="M168 372.8L207 372.8"/>
<path class="cl" d="M185 364.5L185 409"/>
<path class="t" d="M161.8 400L161.8 406.7"/>
<circle class="k2" cx="126.1" cy="385.3" r="1.4"/>
<path class="t" d="M123.8 385.3L128.4 385.3"/>
<path class="t" d="M126.1 383L126.1 387.6"/>
<circle cx="126.1" cy="385.3" r="0.77" fill="#333"/>
<circle class="k2" cx="126.1" cy="394.2" r="1.4"/>
<path class="t" d="M123.8 394.2L128.4 394.2"/>
<path class="t" d="M126.1 391.9L126.1 396.5"/>
<circle cx="126.1" cy="394.2" r="0.77" fill="#333"/>
<circle class="k2" cx="210.3" cy="382" r="1.4"/>
<path class="t" d="M208 382L212.6 382"/>
<path class="t" d="M210.3 379.7L210.3 384.3"/>
<circle cx="210.3" cy="382" r="0.77" fill="#333"/>
<circle class="k2" cx="210.3" cy="397.5" r="1.4"/>
<path class="t" d="M208 397.5L212.6 397.5"/>
<path class="t" d="M210.3 395.2L210.3 399.8"/>
<circle cx="210.3" cy="397.5" r="0.77" fill="#333"/>
<path class="k2" d="M212 368.5H214V376.5M214.4 374.5H216.5V386.6"/>
<rect class="k2" x="214.4" y="386.6" width="6.4" height="15.4"/>
<rect class="k2" x="216" y="390" width="3.5" height="6"/>
<rect class="k2" x="216" y="397" width="3.5" height="4"/>
<rect class="k" x="679" y="374.7" width="59.2" height="31.8" rx="1"/>
<path class="k" d="M682 374.7V368.2q0 -1.5 1.5 -1.5H733.4q1.5 0 1.5 1.5V374.7"/>
<path class="g2" d="M685.5 374.7V369q0 -1 1 -1H730.4q1 0 1 1V374.7"/>
<path class="g" d="M692 373.5L726 373.5"/>
<path class="cl" d="M708.7 366L708.7 409"/>
<circle class="k2" cx="682.6" cy="378" r="1.4"/>
<path class="t" d="M680.3 378L684.9 378"/>
<path class="t" d="M682.6 375.7L682.6 380.3"/>
<circle cx="682.6" cy="378" r="0.77" fill="#333"/>
<circle class="k2" cx="734.6" cy="378" r="1.4"/>
<path class="t" d="M732.3 378L736.9 378"/>
<path class="t" d="M734.6 375.7L734.6 380.3"/>
<circle cx="734.6" cy="378" r="0.77" fill="#333"/>
<circle class="k2" cx="682.6" cy="403.2" r="1.4"/>
<path class="t" d="M680.3 403.2L684.9 403.2"/>
<path class="t" d="M682.6 400.9L682.6 405.5"/>
<circle cx="682.6" cy="403.2" r="0.77" fill="#333"/>
<circle class="k2" cx="734.6" cy="403.2" r="1.4"/>
<path class="t" d="M732.3 403.2L736.9 403.2"/>
<path class="t" d="M734.6 400.9L734.6 405.5"/>
<circle cx="734.6" cy="403.2" r="0.77" fill="#333"/>
<rect class="k2" x="689.5" y="386" width="13" height="8.5" rx="1"/>
<path class="k2" d="M696.5 386L696.5 394.5"/>
<circle class="k2" cx="693" cy="390.2" r="2.6"/>
<path class="g" d="M689.5 390.2L702.5 390.2"/>
<path class="k2" d="M681.5 368.5H679.5V372.5M679 372.5H677V386"/>
<rect class="k2" x="673.2" y="386" width="5.8" height="16"/>
<rect class="k2" x="674.2" y="389" width="3.6" height="6"/>
<rect class="k2" x="674.2" y="396.5" width="3.6" height="4.5"/>
<circle class="t" cx="680.5" cy="393.7" r="0.9"/>
<rect class="k2" x="738.2" y="374.7" width="34" height="31.8"/>
<rect class="g2" x="740.5" y="376.5" width="29.5" height="28.2" rx="3"/>
<rect class="g2" x="743.5" y="379.5" width="23.5" height="22.2" rx="4"/>
<path class="g" d="M740.5 390.6L770 390.6"/>
<path class="g" d="M755.3 376.5L755.3 404.7"/>
<path class="g" d="M740.5 384L770 384"/>
<path class="g" d="M740.5 397.5L770 397.5"/>
<path class="g" d="M748.5 376.5L748.5 404.7"/>
<path class="g" d="M762 376.5L762 404.7"/>
<circle class="k2" cx="744.5" cy="379.5" r="1.7"/>
<circle class="k2" cx="766" cy="379.5" r="1.7"/>
<circle class="k2" cx="744.5" cy="401.7" r="1.7"/>
<circle class="k2" cx="766" cy="401.7" r="1.7"/>
<path class="k2" d="M770 382.5H771.5V386.5H773V394.5H771.5V398.5H770"/>
<circle class="t" cx="771.3" cy="386" r="0.8"/>
<circle class="t" cx="771.3" cy="395" r="0.8"/>
<text x="727.3" y="391.3" font-size="9.3" fill="#2FA3DC">B</text>
<circle class="b" cx="736.9" cy="393.7" r="3.5"/>
<circle class="t" cx="736.9" cy="393.7" r="1.3"/>
<path class="t" d="M682 343.5L682 367"/>
<path class="t" d="M734.9 343.5L734.9 367"/>
<path class="t" d="M682 346L734.9 346"/>
<path fill="#222" d="M682 346L686.6 345L686.6 347Z"/>
<path fill="#222" d="M734.9 346L730.3 345L730.3 347Z"/>
<text x="708.6" y="344.2" font-size="9.3" fill="#2b2b2b" text-anchor="middle">119</text>
<path class="t" d="M686.5 356L686.5 373"/>
<path class="t" d="M731.4 356L731.4 373"/>
<path class="t" d="M686.5 358.4L731.4 358.4"/>
<path fill="#222" d="M686.5 358.4L691.1 357.4L691.1 359.4Z"/>
<path fill="#222" d="M731.4 358.4L726.8 357.4L726.8 359.4Z"/>
<text x="708.6" y="356.6" font-size="9.3" fill="#2b2b2b" text-anchor="middle">100</text>
<path class="t" d="M684.9 407L684.9 420.5"/>
<path class="t" d="M732.5 407L732.5 420.5"/>
<path class="t" d="M684.9 418.2L732.5 418.2"/>
<path fill="#222" d="M684.9 418.2L689.5 417.2L689.5 419.2Z"/>
<path fill="#222" d="M732.5 418.2L727.9 417.2L727.9 419.2Z"/>
<text x="708.6" y="416.4" font-size="9.3" fill="#2b2b2b" text-anchor="middle">106</text>
<path class="t" d="M679 407L679 431"/>
<path class="t" d="M738.2 407L738.2 431"/>
<path class="t" d="M679 428.6L738.2 428.6"/>
<path fill="#222" d="M679 428.6L683.6 427.6L683.6 429.6Z"/>
<path fill="#222" d="M738.2 428.6L733.6 427.6L733.6 429.6Z"/>
<text x="708.6" y="426.8" font-size="9.3" fill="#2b2b2b" text-anchor="middle">135</text>
<path class="t" d="M636 366.7L682 366.7"/>
<path class="t" d="M636 406.5L679 406.5"/>
<path class="t" d="M638.2 366.7L638.2 406.5"/>
<path fill="#222" d="M638.2 366.7L637.2 371.3L639.2 371.3Z"/>
<path fill="#222" d="M638.2 406.5L637.2 401.9L639.2 401.9Z"/>
<text x="636.5" y="386.6" font-size="9.3" fill="#2b2b2b" text-anchor="middle" transform="rotate(-90 636.5 386.6)">91</text>
<path class="t" d="M651 374.7L679 374.7"/>
<path class="t" d="M653.5 374.7L653.5 406.5"/>
<path fill="#222" d="M653.5 374.7L652.5 379.3L654.5 379.3Z"/>
<path fill="#222" d="M653.5 406.5L652.5 401.9L654.5 401.9Z"/>
<text x="651.6" y="390.6" font-size="9.3" fill="#2b2b2b" text-anchor="middle" transform="rotate(-90 651.6 390.6)">72</text>
<path class="t" d="M663.5 393.7L676 393.7"/>
<path class="t" d="M665.7 385.5L665.7 415"/>
<path fill="#222" d="M665.7 393.7L664.7 389.7L666.7 389.7Z"/>
<path fill="#222" d="M665.7 406.5L664.7 410.5L666.7 410.5Z"/>
<text x="664" y="400.2" font-size="9.3" fill="#2b2b2b" text-anchor="middle" transform="rotate(-90 664 400.2)">29</text>
<path class="t" d="M772.2 374.7L790 374.7"/>
<path class="t" d="M772.2 406.5L790 406.5"/>
<path class="t" d="M776.5 374.7L776.5 406.5"/>
<path fill="#222" d="M776.5 374.7L775.5 379.3L777.5 379.3Z"/>
<path fill="#222" d="M776.5 406.5L775.5 401.9L777.5 401.9Z"/>
<text x="787" y="390.6" font-size="9.3" fill="#2b2b2b" text-anchor="middle" transform="rotate(-90 787 390.6)">73.5</text>
<path class="t" d="M320.5 707.3L638.6 707.3"/>
<path fill="#222" d="M320.5 707.3L325.1 706.3L325.1 708.3Z"/>
<path fill="#222" d="M638.6 707.3L634 706.3L634 708.3Z"/>
<text x="484.3" y="705.6" font-size="8.8" fill="#2b2b2b" text-anchor="middle">L</text>
<path class="t" d="M320.5 731.3L384.8 731.3"/>
<path fill="#222" d="M320.5 731.3L325.1 730.3L325.1 732.3Z"/>
<path fill="#222" d="M384.8 731.3L380.2 730.3L380.2 732.3Z"/>
<path class="t" d="M384.8 731.3L569.6 731.3"/>
<path fill="#222" d="M384.8 731.3L389.4 730.3L389.4 732.3Z"/>
<path fill="#222" d="M569.6 731.3L565 730.3L565 732.3Z"/>
<path class="t" d="M569.6 731.3L638.6 731.3"/>
<path fill="#222" d="M569.6 731.3L574.2 730.3L574.2 732.3Z"/>
<path fill="#222" d="M638.6 731.3L634 730.3L634 732.3Z"/>
<path class="k2" d="M320.5 704.5L320.5 816.2"/>
<path class="t" d="M638.6 704.5L638.6 753.7"/>
<path class="k3" d="M384.8 729L384.8 753.7"/>
<path class="dd" d="M384.8 753.7L384.8 808"/>
<path class="k3" d="M569.6 729L569.6 753.7"/>
<path class="dd" d="M569.6 753.7L569.6 812.5"/>
<text x="323.8" y="719.8" font-size="9.5" fill="#222" stroke="#222" stroke-width=".12">滑台原點</text><text x="361.8" y="719.6" font-size="9.8" fill="#222">140</text>
<text x="323.6" y="728.4" font-size="7.4" fill="#8a8a8a" letter-spacing="0.24">Origin of actuator:140</text>
<text x="452" y="727.8" font-size="9.6" fill="#222" stroke="#222" stroke-width=".12">有效行程</text>
<text x="494.2" y="727.4" font-size="7.4" fill="#777" letter-spacing="0.27">Stroke</text>
<text x="605.6" y="727.6" font-size="9.6" fill="#2b2b2b" text-anchor="middle">149</text>
<path class="K" d="M320.5 753.7L638.6 753.7"/>
<path class="K" d="M320.5 816.2L638.6 816.2"/>
<path class="k" d="M320.5 753.7L320.5 816.2"/>
<path class="k2" d="M324.3 753.7L324.3 816.2"/>
<path class="k" d="M638.6 753.7L638.6 816.2"/>
<path class="k2" d="M634.4 753.7L634.4 816.2"/>
<path class="t" d="M318.3 767.5L322.7 767.5"/>
<path class="t" d="M320.5 765.3L320.5 769.7"/>
<path class="t" d="M318.3 802L322.7 802"/>
<path class="t" d="M320.5 799.8L320.5 804.2"/>
<text x="239" y="733" font-size="9.6" fill="#222" stroke="#222" stroke-width=".12">滑台機械極限</text><text x="296.6" y="732.8" font-size="9.8" fill="#222">36±1</text>
<text x="239" y="741" font-size="7.4" fill="#8a8a8a" letter-spacing="0.23">Mechanical limit:36±1</text>
<path class="t" d="M234 743.2L346.5 743.2"/>
<path fill="#222" d="M320.5 743.2L315.9 742.2L315.9 744.2Z"/>
<path fill="#222" d="M336.6 743.2L341.2 742.2L341.2 744.2Z"/>
<path class="dd" d="M336.6 741L336.6 812.4"/>
<rect class="g2" x="341.4" y="757.3" width="87.1" height="55.1" rx="1.2"/>
<path class="g" d="M336.6 757.3L341.4 757.3"/>
<path class="g" d="M336.6 812.4L341.4 812.4"/>
<rect class="k2" x="362.1" y="757.3" width="46.3" height="9.2"/>
<rect class="k2" x="362.1" y="803.3" width="46.3" height="9.1"/>
<path class="t" d="M364.3 761.9L367.7 761.9"/>
<path class="t" d="M366 760.2L366 763.6"/>
<circle cx="366" cy="761.9" r=".8" fill="#333"/>
<circle class="t" cx="384.8" cy="761.9" r="1.1"/>
<path class="t" d="M402.3 761.9L406.7 761.9"/>
<path class="t" d="M404.5 759.7L404.5 764.1"/>
<path fill="#222" d="M403.3 761.9L404.5 760.4L405.7 761.9L404.5 763.4Z"/>
<path class="t" d="M364.3 807.9L367.7 807.9"/>
<path class="t" d="M366 806.2L366 809.6"/>
<circle cx="366" cy="807.9" r=".8" fill="#333"/>
<circle class="t" cx="384.8" cy="807.9" r="1.1"/>
<path class="t" d="M402.3 807.9L406.7 807.9"/>
<path class="t" d="M404.5 805.7L404.5 810.1"/>
<path fill="#222" d="M403.3 807.9L404.5 806.4L405.7 807.9L404.5 809.4Z"/>
<path class="t" d="M349.4 758L353 758"/>
<path class="t" d="M349.4 811.7L353 811.7"/>
<path class="t" d="M416.7 758L420.3 758"/>
<path class="t" d="M416.7 811.7L420.3 811.7"/>
<path class="g2" d="M428.5 771.4L625.2 771.4"/>
<path class="g2" d="M428.5 798.4L625.2 798.4"/>
<path class="g" d="M333.2 771.6L341.4 771.6"/>
<path class="g" d="M333.2 798.5L341.4 798.5"/>
<path class="cd" d="M320.5 785.4L639 785.4"/>
<path fill="#111" d="M401 754.9L402.5 752.5L404 754.9L402.5 757.3Z"/>
<path fill="#111" d="M401 815L402.5 812.6L404 815L402.5 817.4Z"/>
<path fill="#111" d="M493.5 754.9L495 752.5L496.5 754.9L495 757.3Z"/>
<path fill="#111" d="M493.5 815L495 812.6L496.5 815L495 817.4Z"/>
<path fill="#111" d="M586.2 754.9L587.7 752.5L589.2 754.9L587.7 757.3Z"/>
<path fill="#111" d="M586.2 815L587.7 812.6L589.2 815L587.7 817.4Z"/>
<rect class="g2" x="324.3" y="768.2" width="8.9" height="33.8" rx="1"/>
<circle class="k2" cx="328.6" cy="764.6" r="2"/>
<path class="t" d="M325.7 764.6L331.5 764.6"/>
<path class="t" d="M328.6 761.7L328.6 767.5"/>
<circle cx="328.6" cy="764.6" r="1.1" fill="#333"/>
<circle class="k2" cx="328.6" cy="774.2" r="2"/>
<path class="t" d="M325.7 774.2L331.5 774.2"/>
<path class="t" d="M328.6 771.3L328.6 777.1"/>
<circle cx="328.6" cy="774.2" r="1.1" fill="#333"/>
<circle class="k2" cx="328.6" cy="795.5" r="2"/>
<path class="t" d="M325.7 795.5L331.5 795.5"/>
<path class="t" d="M328.6 792.6L328.6 798.4"/>
<circle cx="328.6" cy="795.5" r="1.1" fill="#333"/>
<circle class="k2" cx="328.6" cy="805" r="2"/>
<path class="t" d="M325.7 805L331.5 805"/>
<path class="t" d="M328.6 802.1L328.6 807.9"/>
<circle cx="328.6" cy="805" r="1.1" fill="#333"/>
<rect class="dd" x="525.4" y="757.2" width="88.7" height="55.4" rx="1.2"/>
<rect class="k2" x="625.2" y="768.4" width="9.1" height="34" rx="0.8"/>
<circle class="k2" cx="630" cy="765.2" r="2"/>
<path class="t" d="M627.1 765.2L632.9 765.2"/>
<path class="t" d="M630 762.3L630 768.1"/>
<circle cx="630" cy="765.2" r="1.1" fill="#333"/>
<circle class="k2" cx="630" cy="774.3" r="2"/>
<path class="t" d="M627.1 774.3L632.9 774.3"/>
<path class="t" d="M630 771.4L630 777.2"/>
<circle cx="630" cy="774.3" r="1.1" fill="#333"/>
<circle class="k2" cx="630" cy="795.7" r="2"/>
<path class="t" d="M627.1 795.7L632.9 795.7"/>
<path class="t" d="M630 792.8L630 798.6"/>
<circle cx="630" cy="795.7" r="1.1" fill="#333"/>
<circle class="k2" cx="630" cy="805.3" r="2"/>
<path class="t" d="M627.1 805.3L632.9 805.3"/>
<path class="t" d="M630 802.4L630 808.2"/>
<circle cx="630" cy="805.3" r="1.1" fill="#333"/>
<rect class="k" x="641.5" y="790.9" width="7.9" height="14.4"/>
<path class="k2" d="M638.6 797.38V806.2H641.5V797.38H638.6"/>
<path class="k2" d="M644.7 790.9V799.88H641.5"/>
<path class="g" d="M641.5 797.38H647.2V805.3"/>
<path class="k2" d="M372.5 816.2L374.5 819H393.5L395.5 816.2M378 819V823.2H380.6V819M389 819V823.2H391.6V819M380.6 820.2H389V822H380.6"/>
<path class="k2" d="M570.2 816.2V818.4H576.2V816.2M572.2 818.4V823H574.2V818.4"/>
<text x="397.6" y="745" font-size="9.2" fill="#222">2-Ø6</text>
<path fill="none" stroke="#222" stroke-width=".65" d="M418.85 739.3h4.3M419.45 740.9L422.55 740.9L421 743.9ZM421 739.3V740.9"/>
<text x="424.85" y="745" font-size="9.2" fill="#222">15 H7</text>
<path class="t" d="M449.5 747H396.5L378.3 770.5"/>
<path fill="#222" d="M386.5 759.9L385 763.3L383.58 762.19Z"/>
<path fill="#222" d="M383.1 764.3L384.6 760.9L386.02 762.01Z"/>
<text x="437.4" y="828.8" font-size="9.2" fill="#222">4-M6</text>
<path fill="none" stroke="#222" stroke-width=".65" d="M459.16 823.1h4.3M459.76 824.7L462.86 824.7L461.31 827.7ZM461.31 823.1V824.7"/>
<text x="465.16" y="828.8" font-size="9.2" fill="#222">15</text>
<path class="t" d="M476 830.6H436.5L396 801.8"/>
<path fill="#222" d="M406.1 809L409.56 810.35L408.51 811.82Z"/>
<path fill="#222" d="M402.9 806.7L399.44 805.35L400.49 803.88Z"/>
<path class="t" d="M366.7 810L366.7 833.3"/>
<path class="t" d="M403.5 810L403.5 833.3"/>
<path class="t" d="M366.7 831.6L403.5 831.6"/>
<path fill="#222" d="M366.7 831.6L371.3 830.6L371.3 832.6Z"/>
<path fill="#222" d="M403.5 831.6L398.9 830.6L398.9 832.6Z"/>
<text x="385.1" y="829.6" font-size="9.3" fill="#2b2b2b" text-anchor="middle">84</text>
<path class="t" d="M362.1 813L362.1 845"/>
<path class="t" d="M408.4 813L408.4 845"/>
<path class="t" d="M362.1 843.3L408.4 843.3"/>
<path fill="#222" d="M362.1 843.3L366.7 842.3L366.7 844.3Z"/>
<path fill="#222" d="M408.4 843.3L403.8 842.3L403.8 844.3Z"/>
<text x="385.1" y="841.4" font-size="9.3" fill="#2b2b2b" text-anchor="middle">100</text>
<path class="t" d="M341.4 812.4L341.4 857.5"/>
<path class="t" d="M427.8 812.4L427.8 857.5"/>
<path class="t" d="M341.4 855.7L427.8 855.7"/>
<path fill="#222" d="M341.4 855.7L346 854.7L346 856.7Z"/>
<path fill="#222" d="M427.8 855.7L423.2 854.7L423.2 856.7Z"/>
<text x="385.1" y="853.8" font-size="9.3" fill="#2b2b2b" text-anchor="middle">190</text>
<path class="t" d="M308.5 753.7L320.5 753.7"/>
<path class="t" d="M308.5 816.2L320.5 816.2"/>
<path class="t" d="M310.9 753.7L310.9 816.2"/>
<path fill="#222" d="M310.9 753.7L309.9 758.3L311.9 758.3Z"/>
<path fill="#222" d="M310.9 816.2L309.9 811.6L311.9 811.6Z"/>
<text x="308.2" y="785" font-size="9.3" fill="#2b2b2b" text-anchor="middle" transform="rotate(-90 308.2 785)">135</text>
<text x="641.8" y="737.2" font-size="9.6" fill="#222" stroke="#222" stroke-width=".12">滑台機械極限</text><text x="699.4" y="737" font-size="9.4" fill="#222">51±1</text>
<text x="641.8" y="745.6" font-size="7.4" fill="#8a8a8a" letter-spacing="0.22">Mechanical limit:51±1</text>
<path class="t" d="M607 747.8L720.6 747.8"/>
<path fill="#222" d="M614 747.8L609.4 746.8L609.4 748.8Z"/>
<path fill="#222" d="M638.6 747.8L643.2 746.8L643.2 748.8Z"/>
<path class="t" d="M614 745.5L614 757.4"/>
<text x="654" y="769.4" font-size="9" fill="#222">Ø10</text><text x="671.01" y="769.6" font-size="9.5" fill="#222" stroke="#222" stroke-width=".12">氣壓接頭</text>
<text x="654" y="777.8" font-size="7.4" fill="#8a8a8a" letter-spacing="0.2">Ø10 air fitting</text>
<path class="t" d="M710.8 781.2H653.1L648.4 789.4"/>
<path fill="#222" d="M648.3 789.6L649.42 785.86L650.98 786.76Z"/>
<path class="t" d="M638.6 816.2L638.6 833.4"/>
<path class="t" d="M649.4 805.3L649.4 833.4"/>
<path class="t" d="M630 831.6L665 831.6"/>
<path fill="#222" d="M638.6 831.6L634 830.6L634 832.6Z"/>
<path fill="#222" d="M649.4 831.6L654 830.6L654 832.6Z"/>
<text x="653.8" y="829.9" font-size="9.3" fill="#2b2b2b">35</text>
<text x="435.4" y="861" font-size="9.2" fill="#222">4-M5</text>
<path fill="none" stroke="#222" stroke-width=".65" d="M457.16 855.3h4.3M457.76 856.9L460.86 856.9L459.31 859.9ZM459.31 855.3V856.9"/>
<text x="463.16" y="861" font-size="9.2" fill="#222">10</text>
<text x="435.4" y="870.2" font-size="9.5" fill="#222" stroke="#222" stroke-width=".12">對面相同位置兩孔</text>
<text x="435.4" y="879.4" font-size="7.4" fill="#555" letter-spacing="0.21">2 holes on the same position at opposite side.</text>
<path class="t" d="M597.6 881.4H427L390.4 896.8"/>
<path fill="#222" d="M397.6 893.8L400.75 891.5L401.45 893.16Z"/>
<path fill="#222" d="M392.8 895.8L389.65 898.1L388.95 896.44Z"/>
<text x="715.5" y="804.8" font-size="10.1" fill="#2FA3DC" letter-spacing="0.3">B View</text>
<path class="k" d="M732 815.6V826.9H724.1A7.4 7.6 0 0 0 724.1 842.1H732V850.1"/>
<path class="k2" d="M733.6 815.6V828.4H730.1V832.4H733.6V828.4"/>
<path class="k2" d="M733.6 850.1H733.6V840.6H729.1"/>
<path class="cl" d="M725.6 834.7L742.6 834.7"/>
<path class="g" d="M734.6 830.6L743.6 830.6"/>
<path class="g" d="M734.6 838.6L743.6 838.6"/>
<path class="t" d="M701.1 826.9L720.6 826.9"/>
<path class="t" d="M701.1 842.1L720.6 842.1"/>
<path class="t" d="M703.2 820.9L703.2 848.1"/>
<path fill="#222" d="M703.2 826.9L702.2 822.3L704.2 822.3Z"/>
<path fill="#222" d="M703.2 842.1L702.2 846.7L704.2 846.7Z"/>
<text x="700.9" y="834.7" font-size="9" fill="#2b2b2b" text-anchor="middle" transform="rotate(-90 700.9 834.7)">5.7</text>
<text x="744.6" y="818.7" font-size="9" fill="#2b2b2b">3.5</text>
<path class="t" d="M742.2 822.3L758.1 822.3"/>
<path class="t" d="M742.2 822.3L742.2 830.6"/>
<path fill="#222" d="M742.2 830.6L741.2 826.6L743.2 826.6Z"/>
<path class="t" d="M742.2 838.6L742.2 848.1"/>
<path fill="#222" d="M742.2 838.6L741.2 842.6L743.2 842.6Z"/>
<text x="744.6" y="852.5" font-size="9" fill="#2b2b2b">1.8</text>
<path class="t" d="M717.6 854.4L757.6 854.4"/>
<path fill="#222" d="M730.4 854.4L726.4 853.4L726.4 855.4Z"/>
<path fill="#222" d="M733.6 854.4L737.6 853.4L737.6 855.4Z"/>
<path class="t" d="M730.4 843.1L730.4 867.6"/>
<path class="t" d="M733.6 850.1L733.6 856.1"/>
<text x="746.6" y="864.1" font-size="9" fill="#2b2b2b">5.5</text>
<path class="t" d="M710.6 866.1L759.6 866.1"/>
<path fill="#222" d="M716.9 866.1L712.9 865.1L712.9 867.1Z"/>
<path fill="#222" d="M730.4 866.1L734.4 865.1L734.4 867.1Z"/>
<path class="t" d="M716.9 835.1L716.9 867.6"/>
<path class="k" d="M320.6 932.6V899.6q0 -1.6 1.6 -1.6H333L334 899.2H341.4V891.6H362.1V890.6H408.3V891.6H428.2L429.2 892.8V899.2H625V897.5H637L638.3 899V932.6Z"/>
<path class="k2" d="M324.4 898L324.4 932.6"/>
<path class="k2" d="M634.5 899.2L634.5 932.6"/>
<path class="g" d="M341.4 897.5L362.1 897.5"/>
<path class="k2" d="M362.1 890.6L362.1 897.5"/>
<path class="k2" d="M408.3 890.6L408.3 897.5"/>
<path class="k2" d="M362.1 897.5L408.3 897.5"/>
<path class="g" d="M324.4 901L634.5 901"/>
<path class="g2" d="M324.4 916L634.5 916"/>
<path class="k2" d="M324.4 918.2L634.5 918.2"/>
<path class="g" d="M324.4 920.5L634.5 920.5"/>
<path class="g" d="M324.4 930.5L634.5 930.5"/>
<rect class="g2" x="369.5" y="891.9" width="31" height="4.3" rx="1.5"/>
<path class="t" d="M371.6 894L375.2 894"/>
<path class="t" d="M373.4 892.2L373.4 895.8"/>
<path fill="#222" d="M372.4 894L373.4 892.7L374.4 894L373.4 895.3Z"/>
<path class="t" d="M394.5 894L398.1 894"/>
<path class="t" d="M396.3 892.2L396.3 895.8"/>
<path fill="#222" d="M395.3 894L396.3 892.7L397.3 894L396.3 895.3Z"/>
<path class="k2" d="M381.7 897.5V917.1M388.9 897.5V917.1"/>
<path class="k2" d="M378.6 912V922.5L379.4 929.5L380.2 922.5V912ZM390.4 912V922.5L391.2 929.5L392 922.5V912Z"/>
<path class="k2" d="M373.5 918.9q0 -1.6 2 -1.6h19.5q2 0 2 1.6q0 1.6 -2 1.6h-19.5q-2 0 -2 -1.6z"/>
<circle class="t" cx="385.3" cy="918.9" r="0.9"/>
<path class="k2" d="M572.2 911.5V923L573.2 930L574.2 923V911.5ZM567.8 918.9q0 -1.5 1.8 -1.5h7.2q1.8 0 1.8 1.5q0 1.5 -1.8 1.5h-7.2q-1.8 0 -1.8 -1.5z"/>
<rect class="k2" x="638.3" y="912" width="2.7" height="5.5"/>
<rect class="k" x="641" y="910" width="8.3" height="9.3"/>
<path class="k2" d="M644 910L644 919.3"/>
<path class="k2" d="M646.7 910L646.7 919.3"/>
<path class="g" d="M641 914.6L649.3 914.6"/>
<path class="k" d="M320.6 932.6V968.3H344.2V932.6"/>
<path class="k2" d="M339.2 932.6L339.2 968.3"/>
<path class="t" d="M318.6 950.5L323 950.5"/>
<path class="t" d="M320.8 948.3L320.8 952.7"/>
<rect class="k2" x="345" y="936.9" width="2.8" height="29.2"/>
<rect class="k" x="347.8" y="936.9" width="22" height="29.2"/>
<rect class="k2" x="369.8" y="936.9" width="2.7" height="29.2"/>
<path class="k" d="M372.5 936.9H388.5q1.9 0 1.9 2V964q0 2.1 -1.9 2.1H372.5"/>
<path class="k2" d="M347.8 941.5L369.8 941.5"/>
<path class="k2" d="M347.8 962.5L369.8 962.5"/>
<path class="g" d="M372.5 941.5L390 941.5"/>
<path class="g" d="M372.5 962.5L390 962.5"/>
<path class="cl" d="M342 951.5L392 951.5"/>
<path class="t" d="M351.6 881.1L351.6 886.5"/>
<path fill="#222" d="M351.6 891.6L350.6 887.4L352.6 887.4Z"/>
<path class="t" d="M351.6 891.6L351.6 899.2"/>
<path fill="#222" d="M351.6 899.2L350.6 903.4L352.6 903.4Z"/>
<path class="t" d="M351.6 899.2L351.6 903"/>
<path class="t" d="M351.6 881.1L359.5 881.1"/>
<text x="353.4" y="880" font-size="9.3" fill="#2b2b2b">7</text>
<path class="t" d="M373.4 878.5L373.4 895"/>
<path class="t" d="M396.3 878.5L396.3 895"/>
<path class="t" d="M373.4 881.1L396.3 881.1"/>
<path fill="#222" d="M373.4 881.1L378 880.1L378 882.1Z"/>
<path fill="#222" d="M396.3 881.1L391.7 880.1L391.7 882.1Z"/>
<text x="384.8" y="879.2" font-size="9.3" fill="#2b2b2b" text-anchor="middle">50</text>
<path class="t" d="M320.5 982L387.1 982"/>
<path fill="#222" d="M320.5 982L325.1 981L325.1 983Z"/>
<path fill="#222" d="M387.1 982L382.5 981L382.5 983Z"/>
<path class="t" d="M387.1 982L433.4 982"/>
<path fill="#222" d="M387.1 982L391.7 981L391.7 983Z"/>
<path fill="#222" d="M433.4 982L428.8 981L428.8 983Z"/>
<path class="t" d="M433.4 982L525.4 982"/>
<path fill="#222" d="M433.4 982L438 981L438 983Z"/>
<path fill="#222" d="M525.4 982L520.8 981L520.8 983Z"/>
<path class="t" d="M525.4 982L594.9 982"/>
<path fill="#222" d="M525.4 982L530 981L530 983Z"/>
<path fill="#222" d="M594.9 982L590.3 981L590.3 983Z"/>
<path class="t" d="M594.9 982L638.3 982"/>
<path fill="#222" d="M594.9 982L599.5 981L599.5 983Z"/>
<path fill="#222" d="M638.3 982L633.7 981L633.7 983Z"/>
<text x="355" y="980" font-size="9.3" fill="#2b2b2b" text-anchor="middle">145</text>
<text x="410.3" y="980" font-size="9.3" fill="#2b2b2b" text-anchor="middle">100</text>
<text x="486.5" y="980" font-size="9.3" fill="#2b2b2b" text-anchor="middle">M*200</text>
<text x="561.7" y="980" font-size="9.3" fill="#2b2b2b" text-anchor="middle">A</text>
<text x="617.7" y="980" font-size="9.3" fill="#2b2b2b" text-anchor="middle">94</text>
<path class="t" d="M320.5 979.3L320.5 991.3"/>
<path class="k2" d="M387.1 979.3L387.1 998.2"/>
<path class="k2" d="M433.4 979.3L433.4 998.2"/>
<path class="k2" d="M525.4 979.3L525.4 998.2"/>
<path class="t" d="M594.9 979.3L594.9 998.2"/>
<path class="t" d="M638.3 979.3L638.3 991.3"/>
<path class="K" d="M320.5 991.3L638.3 991.3"/>
<path class="K" d="M320.5 1053.9L638.3 1053.9"/>
<path class="k" d="M320.5 991.3L320.5 1053.9"/>
<path class="k2" d="M324.4 991.3L324.4 1053.9"/>
<path class="k" d="M638.3 991.3L638.3 1053.9"/>
<path class="k2" d="M634.3 991.3L634.3 1053.9"/>
<path class="g" d="M636.3 991.3L636.3 1053.9"/>
<path class="k2" d="M324.4 1000.8H338.3V1044.7H324.4"/>
<path class="k2" d="M338.3 1000.8q0 -1.6 1.6 -1.6h2.9q1.6 0 1.6 1.6V1044.9q0 1.6 -1.6 1.6h-2.9q-1.6 0 -1.6 -1.6"/>
<path class="t" d="M318.6 1005.5L323 1005.5"/>
<path class="t" d="M320.8 1003.3L320.8 1007.7"/>
<path class="t" d="M318.6 1040.5L323 1040.5"/>
<path class="t" d="M320.8 1038.3L320.8 1042.7"/>
<rect class="k2" x="344.4" y="1007.9" width="2.4" height="28.8"/>
<rect class="k" x="346.8" y="1007.9" width="22.7" height="28.8"/>
<rect class="k2" x="369.5" y="1007.9" width="2.9" height="28.8"/>
<path class="k" d="M372.4 1007.9H379L381 1004.8H387.7L388.8 1008.5V1035.9L388 1036.7H372.4"/>
<path class="k2" d="M346.8 1012L369.5 1012"/>
<path class="k2" d="M346.8 1032.9L369.5 1032.9"/>
<path class="g" d="M372.4 1012L388.8 1012"/>
<path class="g" d="M372.4 1032.9L388.8 1032.9"/>
<rect class="k2" x="364.3" y="1003" width="3.8" height="4.9"/>
<path class="k2" d="M366.2 999.3L366.2 1003"/>
<rect class="k2" x="383.4" y="1000.8" width="3.6" height="4"/>
<path class="k2" d="M388.8 1012q1.5 1 1.2 4.5q0 2 -1.2 2.5M388.8 1026q1.5 1 1.2 4.5q0 2 -1.2 2.5"/>
<path class="k3" d="M389.3 1007.5L634.3 1007.5"/>
<path class="k3" d="M389.3 1038.2L634.3 1038.2"/>
<path class="cd2" d="M320.5 1022.8L640 1022.8"/>
<path class="t" d="M384.8 998.2L389.4 998.2"/>
<path class="t" d="M387.1 995.9L387.1 1000.5"/>
<path fill="#222" d="M386.1 998.2L387.1 996.9L388.1 998.2L387.1 999.5Z"/>
<path class="t" d="M384.8 1047.1L389.4 1047.1"/>
<path class="t" d="M387.1 1044.8L387.1 1049.4"/>
<path fill="#222" d="M386.1 1047.1L387.1 1045.8L388.1 1047.1L387.1 1048.4Z"/>
<path class="t" d="M431.1 998.2L435.7 998.2"/>
<path class="t" d="M433.4 995.9L433.4 1000.5"/>
<path fill="#222" d="M432.4 998.2L433.4 996.9L434.4 998.2L433.4 999.5Z"/>
<path class="t" d="M431.1 1047.1L435.7 1047.1"/>
<path class="t" d="M433.4 1044.8L433.4 1049.4"/>
<path fill="#222" d="M432.4 1047.1L433.4 1045.8L434.4 1047.1L433.4 1048.4Z"/>
<path class="t" d="M523.1 998.2L527.7 998.2"/>
<path class="t" d="M525.4 995.9L525.4 1000.5"/>
<path fill="#222" d="M524.4 998.2L525.4 996.9L526.4 998.2L525.4 999.5Z"/>
<path class="t" d="M523.1 1047.1L527.7 1047.1"/>
<path class="t" d="M525.4 1044.8L525.4 1049.4"/>
<path fill="#222" d="M524.4 1047.1L525.4 1045.8L526.4 1047.1L525.4 1048.4Z"/>
<path class="t" d="M592.6 998.2L597.2 998.2"/>
<path class="t" d="M594.9 995.9L594.9 1000.5"/>
<path fill="#222" d="M593.9 998.2L594.9 996.9L595.9 998.2L594.9 999.5Z"/>
<path class="t" d="M592.6 1047.1L597.2 1047.1"/>
<path class="t" d="M594.9 1044.8L594.9 1049.4"/>
<path fill="#222" d="M593.9 1047.1L594.9 1045.8L595.9 1047.1L594.9 1048.4Z"/>
<rect class="k2" x="638.3" y="1008.5" width="3.2" height="4.5"/>
<rect class="k" x="641.5" y="1002" width="7.7" height="15.8"/>
<path class="k2" d="M644.5 1002L644.5 1017.8"/>
<path class="g" d="M634.3 1010.7L644.5 1010.7"/>
<path class="t" d="M307 991.3L320.5 991.3"/>
<path class="t" d="M307 1053.9L320.5 1053.9"/>
<path class="t" d="M309.2 991.3L309.2 1053.9"/>
<path fill="#222" d="M309.2 991.3L308.2 995.9L310.2 995.9Z"/>
<path fill="#222" d="M309.2 1053.9L308.2 1049.3L310.2 1049.3Z"/>
<text x="307.5" y="1022.8" font-size="9.3" fill="#2b2b2b" text-anchor="middle" transform="rotate(-90 307.5 1022.8)">135</text>
<text x="457.6" y="1064.2" font-size="9.2" fill="#222">N-M6</text>
<path fill="none" stroke="#222" stroke-width=".65" d="M480.89 1058.5h4.3M481.49 1060.1L484.59 1060.1L483.04 1063.1ZM483.04 1058.5V1060.1"/>
<text x="486.89" y="1064.2" font-size="9.2" fill="#222">10</text>
<path class="t" d="M497.6 1066.2H451.5L424 1038.2"/>
<path fill="#222" d="M436.2 1050.6L439.37 1052.54L438.08 1053.8Z"/>
<path fill="#222" d="M431.6 1045.9L428.43 1043.96L429.72 1042.7Z"/>
<rect class="k" x="199.8" y="899" width="62.7" height="33.7" rx="1"/>
<path class="k" d="M203.1 899V892.1q0 -1.5 1.5 -1.5H257.1q1.5 0 1.5 1.5V899"/>
<path class="g2" d="M206.6 899V893q0 -1 1 -1H254q1 0 1 1V899"/>
<path class="g" d="M213 897.8L248 897.8"/>
<path class="cl" d="M230.7 889.5L230.7 934.5"/>
<circle class="k2" cx="203.4" cy="902.5" r="1.4"/>
<path class="t" d="M201.1 902.5L205.7 902.5"/>
<path class="t" d="M203.4 900.2L203.4 904.8"/>
<circle cx="203.4" cy="902.5" r="0.77" fill="#333"/>
<circle class="k2" cx="258.8" cy="902.5" r="1.4"/>
<path class="t" d="M256.5 902.5L261.1 902.5"/>
<path class="t" d="M258.8 900.2L258.8 904.8"/>
<circle cx="258.8" cy="902.5" r="0.77" fill="#333"/>
<circle class="k2" cx="203.4" cy="929.2" r="1.4"/>
<path class="t" d="M201.1 929.2L205.7 929.2"/>
<path class="t" d="M203.4 926.9L203.4 931.5"/>
<circle cx="203.4" cy="929.2" r="0.77" fill="#333"/>
<circle class="k2" cx="258.8" cy="929.2" r="1.4"/>
<path class="t" d="M256.5 929.2L261.1 929.2"/>
<path class="t" d="M258.8 926.9L258.8 931.5"/>
<circle cx="258.8" cy="929.2" r="0.77" fill="#333"/>
<circle class="t" cx="201.5" cy="919" r="0.9"/>
<circle class="t" cx="260.8" cy="919" r="0.9"/>
<rect class="k" x="209" y="932.7" width="43.7" height="35.9"/>
<path class="t" d="M211.5 950.6L216.3 950.6"/>
<path class="t" d="M213.9 948.2L213.9 953"/>
<path fill="#222" d="M212.9 950.6L213.9 949.3L214.9 950.6L213.9 951.9Z"/>
<path class="t" d="M245.1 950.6L249.9 950.6"/>
<path class="t" d="M247.5 948.2L247.5 953"/>
<path fill="#222" d="M246.5 950.6L247.5 949.3L248.5 950.6L247.5 951.9Z"/>
<path class="k2" d="M258.6 892.5H260.6V896.8H264.6V912"/>
<rect class="k2" x="262.5" y="912" width="5.8" height="16"/>
<rect class="k2" x="263.6" y="915" width="3.6" height="6"/>
<rect class="k2" x="263.6" y="922.5" width="3.6" height="4.5"/>
<path class="t" d="M203.1 866.8L203.1 891"/>
<path class="t" d="M258.6 866.8L258.6 891"/>
<path class="t" d="M203.1 869.2L258.6 869.2"/>
<path fill="#222" d="M203.1 869.2L207.7 868.2L207.7 870.2Z"/>
<path fill="#222" d="M258.6 869.2L254 868.2L254 870.2Z"/>
<text x="230.8" y="867.4" font-size="9.3" fill="#2b2b2b" text-anchor="middle">119</text>
<path class="t" d="M207.6 879L207.6 897.5"/>
<path class="t" d="M254.3 879L254.3 897.5"/>
<path class="t" d="M207.6 881.4L254.3 881.4"/>
<path fill="#222" d="M207.6 881.4L212.2 880.4L212.2 882.4Z"/>
<path fill="#222" d="M254.3 881.4L249.7 880.4L249.7 882.4Z"/>
<text x="230.8" y="879.6" font-size="9.3" fill="#2b2b2b" text-anchor="middle">100</text>
<path class="t" d="M159.3 890.6L203.1 890.6"/>
<path class="t" d="M159.3 932.7L199.8 932.7"/>
<path class="t" d="M161.6 890.6L161.6 932.7"/>
<path fill="#222" d="M161.6 890.6L160.6 895.2L162.6 895.2Z"/>
<path fill="#222" d="M161.6 932.7L160.6 928.1L162.6 928.1Z"/>
<text x="160" y="911.6" font-size="9.3" fill="#2b2b2b" text-anchor="middle" transform="rotate(-90 160 911.6)">91</text>
<path class="t" d="M175.5 899L199.8 899"/>
<path class="t" d="M177.8 899L177.8 932.7"/>
<path fill="#222" d="M177.8 899L176.8 903.6L178.8 903.6Z"/>
<path fill="#222" d="M177.8 932.7L176.8 928.1L178.8 928.1Z"/>
<text x="176.2" y="915.8" font-size="9.3" fill="#2b2b2b" text-anchor="middle" transform="rotate(-90 176.2 915.8)">72</text>
<path class="t" d="M188 919L201 919"/>
<path class="t" d="M190 910.5L190 941.5"/>
<path fill="#222" d="M190 919L189 915L191 915Z"/>
<path fill="#222" d="M190 932.7L189 936.7L191 936.7Z"/>
<text x="188.4" y="926" font-size="9.3" fill="#2b2b2b" text-anchor="middle" transform="rotate(-90 188.4 926)">29</text>
<rect class="k" x="702.8" y="899" width="63" height="33.5" rx="1"/>
<path class="k" d="M706.1 899V892.1q0 -1.5 1.5 -1.5H760q1.5 0 1.5 1.5V899"/>
<path class="g2" d="M709.6 899V893q0 -1 1 -1H757q1 0 1 1V899"/>
<path class="g" d="M716 897.8L752 897.8"/>
<path class="cl" d="M734.8 889.5L734.8 934.5"/>
<circle class="k2" cx="706.4" cy="902.4" r="1.4"/>
<path class="t" d="M704.1 902.4L708.7 902.4"/>
<path class="t" d="M706.4 900.1L706.4 904.7"/>
<circle cx="706.4" cy="902.4" r="0.77" fill="#333"/>
<circle class="k2" cx="761.8" cy="902.4" r="1.4"/>
<path class="t" d="M759.5 902.4L764.1 902.4"/>
<path class="t" d="M761.8 900.1L761.8 904.7"/>
<circle cx="761.8" cy="902.4" r="0.77" fill="#333"/>
<circle class="k2" cx="706.4" cy="929.2" r="1.4"/>
<path class="t" d="M704.1 929.2L708.7 929.2"/>
<path class="t" d="M706.4 926.9L706.4 931.5"/>
<circle cx="706.4" cy="929.2" r="0.77" fill="#333"/>
<circle class="k2" cx="761.8" cy="929.2" r="1.4"/>
<path class="t" d="M759.5 929.2L764.1 929.2"/>
<path class="t" d="M761.8 926.9L761.8 931.5"/>
<circle cx="761.8" cy="929.2" r="0.77" fill="#333"/>
<rect class="k2" x="713.2" y="910.5" width="14.3" height="8" rx="1"/>
<path class="k2" d="M720.5 910.5L720.5 918.5"/>
<circle class="k2" cx="716.8" cy="914.5" r="2.7"/>
<path class="g" d="M713.2 914.5L727.5 914.5"/>
<path class="k2" d="M706 892.5H703.6V896.8H699.5V911.2"/>
<rect class="k2" x="695.6" y="911.2" width="7.2" height="17.5"/>
<rect class="k2" x="696.8" y="914" width="3.8" height="6"/>
<rect class="k2" x="696.8" y="922" width="3.8" height="5"/>
<circle class="t" cx="704.6" cy="919" r="0.9"/>
<rect class="k" x="712.2" y="932.5" width="44.7" height="35.9"/>
<rect class="g2" x="720.3" y="935.6" width="28.2" height="30.8" rx="2"/>
<rect class="g2" x="722.6" y="938" width="23.6" height="26" rx="4"/>
<path class="g" d="M720.3 951L748.5 951"/>
<path class="g" d="M734.8 935.6L734.8 966.4"/>
<path class="g" d="M720.3 943.5L748.5 943.5"/>
<path class="g" d="M720.3 958.5L748.5 958.5"/>
<circle class="k2" cx="723.5" cy="939" r="1.7"/>
<circle class="k2" cx="745.3" cy="939" r="1.7"/>
<circle class="k2" cx="723.5" cy="963" r="1.7"/>
<circle class="k2" cx="745.3" cy="963" r="1.7"/>
<path class="k2" d="M720.3 946H714.5V956H720.3M716 948.5H720.3M716 953.5H720.3"/>
<text x="754" y="922.2" font-size="9.3" fill="#2FA3DC">B</text>
<circle class="b" cx="764.2" cy="919.1" r="3.7"/>
<circle class="t" cx="764.2" cy="919.1" r="1.3"/>
<text x="777.2" y="551.5" font-size="9.3" fill="#333" stroke="#333" stroke-width=".1" letter-spacing=".6">單位</text><text x="837" y="551.6" font-size="9.3" fill="#333" text-anchor="end" letter-spacing="0.35">Unit:mm</text>
<text x="777.2" y="1083.1" font-size="9.3" fill="#333" stroke="#333" stroke-width=".1" letter-spacing=".6">單位</text><text x="837" y="1083.2" font-size="9.3" fill="#333" text-anchor="end" letter-spacing="0.35">Unit:mm</text>
<text x="837.6" y="1218.8" font-size="13.6" fill="#333" text-anchor="end" letter-spacing="0.2">106</text>
</svg>
</body></html>
